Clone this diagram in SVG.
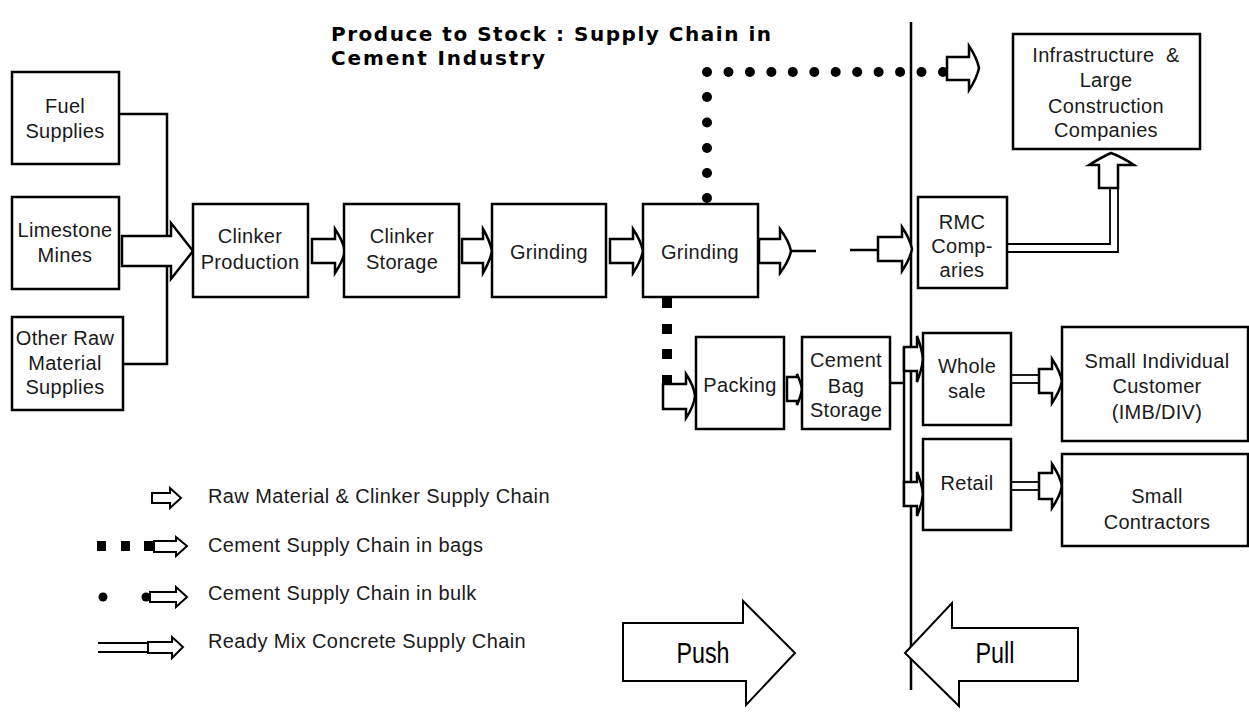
<svg xmlns="http://www.w3.org/2000/svg" width="1249" height="713" viewBox="0 0 1249 713">
<style>
.bg{fill:#fff}
.box{fill:#fff;stroke:#000;stroke-width:2.5}
.t{font-family:"Liberation Sans",Arial,sans-serif;font-size:20px;text-anchor:middle;fill:#1a1a1a;letter-spacing:0.3px}
.lg{font-family:"Liberation Sans",Arial,sans-serif;font-size:20px;fill:#1a1a1a;letter-spacing:0.4px}
.title{font-family:"DejaVu Sans","Liberation Sans",Arial,sans-serif;font-size:20px;font-weight:bold;fill:#000}
.big{font-family:"Liberation Sans",Arial,sans-serif;font-size:29px;text-anchor:middle;fill:#000}
.arr{fill:#fff;stroke:#000;stroke-width:2.5;stroke-linejoin:miter}
.ln{fill:none;stroke:#000;stroke-width:2.5}
.thin{fill:none;stroke:#000;stroke-width:1.8}
.fat{fill:#fff;stroke:#000;stroke-width:2}
.dot{fill:#000}
</style>
<rect class="bg" x="0" y="0" width="1249" height="713"/>

<g id="title">
<text class="title" x="331" y="41" textLength="440" lengthAdjust="spacing">Produce to Stock : Supply Chain in</text>
<text class="title" x="331" y="65" textLength="214" lengthAdjust="spacing">Cement Industry</text>
</g>

<g id="connectors">
<line class="ln" x1="911" y1="22" x2="911" y2="690"/>
<polyline class="ln" points="119,114 167,114 167,364 123,364"/>
<path class="arr" d="M122,236 H171 V223 L193,251 L171,279 V266 H122 Z"/>
<path class="arr" d="M312,239 H335 V229 Q343,241 345,251 Q343,261 335,273 V263 H312 Z"/>
<path class="arr" d="M462,239 H483 V229 Q490,241 492,251 Q490,261 483,273 V263 H462 Z"/>
<path class="arr" d="M610,239 H633 V229 Q641,241 643,251 Q641,261 633,273 V263 H610 Z"/>
<path class="arr" d="M759,239 H780 V229 Q789,241 791,251 Q789,261 780,273 V263 H759 Z"/>
<line class="ln" x1="791" y1="251" x2="816" y2="251"/>
<line class="ln" x1="850" y1="250" x2="878" y2="250"/>
<path class="arr" d="M878,237 H902 V227 Q910,239 912,249 Q910,259 902,271 V261 H878 Z"/>
<g id="bulk">
<circle class="dot" cx="707" cy="72" r="5"/><circle class="dot" cx="728.5" cy="72" r="5"/><circle class="dot" cx="749.9" cy="72" r="5"/><circle class="dot" cx="771.4" cy="72" r="5"/><circle class="dot" cx="792.8" cy="72" r="5"/><circle class="dot" cx="814.3" cy="72" r="5"/><circle class="dot" cx="835.7" cy="72" r="5"/><circle class="dot" cx="857.2" cy="72" r="5"/><circle class="dot" cx="878.6" cy="72" r="5"/><circle class="dot" cx="900.1" cy="72" r="5"/><circle class="dot" cx="921.5" cy="72" r="5"/>
<circle class="dot" cx="707" cy="97" r="5"/><circle class="dot" cx="707" cy="122.5" r="5"/><circle class="dot" cx="707" cy="148" r="5"/><circle class="dot" cx="707" cy="173" r="5"/><circle class="dot" cx="707" cy="198" r="5"/>
<path class="arr" d="M947,57 H969 V46 Q977,58 979,68 Q977,78 969,90 V80 H947 Z"/>
<circle class="dot" cx="943" cy="72" r="5"/>
</g>
<g id="bags">
<rect class="dot" x="662" y="298" width="10" height="10"/><rect class="dot" x="662" y="324" width="10" height="10"/><rect class="dot" x="662" y="349" width="10" height="10"/>
<path class="arr" d="M663,384 H686 V374 Q694,386 695,396 Q694,406 686,418 V409 H663 Z"/>
<rect class="dot" x="662" y="375" width="10" height="10"/>
</g>
<path class="arr" d="M787,377 H797 V374 Q801,383 802,389 Q801,396 797,405 V401 H787 Z"/>
<line class="ln" x1="890" y1="383" x2="904" y2="383"/>
<line class="ln" x1="904" y1="347" x2="904" y2="507"/>
<path class="arr" d="M904,347 H917 V336 Q922,349 923,359 Q922,369 917,382 V371 H904 Z"/>
<path class="arr" d="M904,482 H917 V472 Q922,484 923,494 Q922,504 917,516 V506 H904 Z"/>
<line class="thin" x1="1011" y1="375" x2="1039" y2="375"/>
<line class="thin" x1="1011" y1="383" x2="1039" y2="383"/>
<path class="arr" d="M1039,369 H1052 V359 Q1060,371 1062,381 Q1060,391 1052,403 V393 H1039 Z"/>
<line class="thin" x1="1011" y1="482" x2="1039" y2="482"/>
<line class="thin" x1="1011" y1="490" x2="1039" y2="490"/>
<path class="arr" d="M1039,473 H1052 V464 Q1060,476 1062,486 Q1060,496 1052,508 V499 H1039 Z"/>
<polyline class="thin" points="1007,244 1110,244 1110,188"/>
<polyline class="thin" points="1007,252 1118,252 1118,188"/>
<path class="arr" d="M1099,188 V165 H1089 Q1102,157 1111,153 Q1122,157 1134,165 H1118 V188 Z"/>
</g>

<g id="fuel"><rect class="box" x="12" y="72" width="107" height="92"/><text class="t" x="65" y="113">Fuel</text><text class="t" x="65" y="138">Supplies</text></g>
<g id="limestone"><rect class="box" x="12" y="197" width="107" height="92"/><text class="t" x="65" y="237">Limestone</text><text class="t" x="65" y="262">Mines</text></g>
<g id="otherraw"><rect class="box" x="12" y="317" width="111" height="93"/><text class="t" x="65" y="345">Other Raw</text><text class="t" x="65" y="370">Material</text><text class="t" x="65" y="394">Supplies</text></g>
<g id="clinkerprod"><rect class="box" x="193" y="204" width="115" height="93"/><text class="t" x="250" y="243">Clinker</text><text class="t" x="250" y="269">Production</text></g>
<g id="clinkerstor"><rect class="box" x="344" y="204" width="115" height="93"/><text class="t" x="402" y="243">Clinker</text><text class="t" x="402" y="269">Storage</text></g>
<g id="grinding1"><rect class="box" x="492" y="204" width="114" height="93"/><text class="t" x="549" y="259">Grinding</text></g>
<g id="grinding2"><rect class="box" x="643" y="204" width="115" height="93"/><text class="t" x="700" y="259">Grinding</text></g>
<g id="rmc"><rect class="box" x="918" y="197" width="89" height="91"/><text class="t" x="962" y="229">RMC</text><text class="t" x="962" y="253">Comp-</text><text class="t" x="962" y="277">aries</text></g>
<g id="infra"><rect class="box" x="1013" y="34" width="187" height="115"/><text class="t" x="1106" y="62" xml:space="preserve">Infrastructure  &amp;</text><text class="t" x="1106" y="87">Large</text><text class="t" x="1106" y="113">Construction</text><text class="t" x="1106" y="137">Companies</text></g>
<g id="packing"><rect class="box" x="696" y="337" width="88" height="92"/><text class="t" x="740" y="392">Packing</text></g>
<g id="bagstorage"><rect class="box" x="802" y="337" width="88" height="92"/><text class="t" x="846" y="367">Cement</text><text class="t" x="846" y="393">Bag</text><text class="t" x="846" y="417">Storage</text></g>
<g id="wholesale"><rect class="box" x="923" y="333" width="88" height="92"/><text class="t" x="967" y="373">Whole</text><text class="t" x="967" y="398">sale</text></g>
<g id="retail"><rect class="box" x="923" y="439" width="88" height="91"/><text class="t" x="967" y="490">Retail</text></g>
<g id="smallind"><rect class="box" x="1062" y="327" width="186" height="114"/><text class="t" x="1157" y="368">Small Individual</text><text class="t" x="1157" y="393">Customer</text><text class="t" x="1157" y="419">(IMB/DIV)</text></g>
<g id="smallcon"><rect class="box" x="1062" y="454" width="186" height="92"/><text class="t" x="1157" y="503">Small</text><text class="t" x="1157" y="529">Contractors</text></g>

<g id="legend">
<path class="fat" d="M152,493 H170 V488 L181,498 L170,508 V503 H152 Z"/>
<text class="lg" x="208" y="503">Raw Material &amp; Clinker Supply Chain</text>
<rect class="dot" x="97" y="541" width="9" height="10"/><rect class="dot" x="121" y="541" width="9" height="10"/><rect class="dot" x="144" y="541" width="9" height="10"/>
<path class="fat" d="M154,541 H176 V537 L187,546 L176,556 V552 H154 Z"/>
<text class="lg" x="208" y="552">Cement Supply Chain in bags</text>
<circle class="dot" cx="103" cy="597" r="4.5"/><circle class="dot" cx="146" cy="597" r="4.5"/>
<path class="fat" d="M150,592 H176 V587 L187,597 L176,607 V602 H150 Z"/>
<text class="lg" x="208" y="600">Cement Supply Chain in bulk</text>
<line class="thin" x1="98" y1="643" x2="148" y2="643"/><line class="thin" x1="98" y1="652" x2="148" y2="652"/>
<path class="fat" d="M148,642 H172 V637 L183,647 L172,658 V653 H148 Z"/>
<text class="lg" x="208" y="648">Ready Mix Concrete Supply Chain</text>
</g>

<g id="push"><polygon class="fat" points="623,623 743,623 743,601 795,653 746,705 746,681 623,681"/><text class="big" x="703" y="663" textLength="53" lengthAdjust="spacingAndGlyphs">Push</text></g>
<g id="pull"><polygon class="fat" points="905,653 952,603 952,628 1078,628 1078,681 959,681 959,706"/><text class="big" x="995" y="663" textLength="39" lengthAdjust="spacingAndGlyphs">Pull</text></g>
</svg>
